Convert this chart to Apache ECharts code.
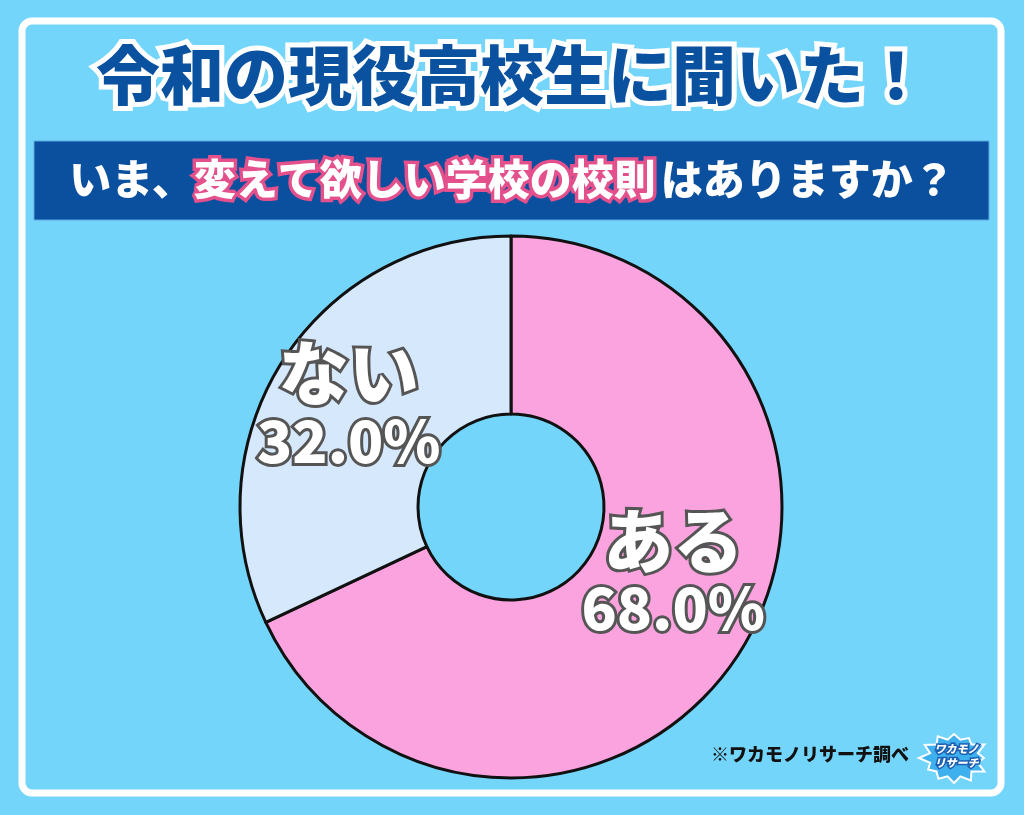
<!DOCTYPE html>
<html><head><meta charset="utf-8">
<script src="https://cdn.jsdelivr.net/npm/echarts@6/dist/echarts.min.js"></script>
<style>html,body{margin:0;padding:0;background:#74d5fb;}#c{width:1024px;height:815px;}</style>
</head><body><div id="c"></div>
<script>
const categories = ['ある', 'ない'];
const values = [68.0, 32.0];
const colors = ['#fba3df', '#d6e8fc'];
const labelOffsets = [[6, -36], [-6, -5]];
const titleText = '令和の現役高校生に聞いた！';
const subPre = 'いま、';
const subMid = '変えて欲しい学校の校則';
const subPost = 'はありますか？';
const sourceText = '※ワカモノリサーチ調べ';

const F = '"Noto Sans CJK JP", "Noto Sans", sans-serif';
const chart = echarts.init(document.getElementById('c'), null, {renderer: 'canvas'});

function burst(cx, cy, rO, rI, n) {
  const pts = [];
  for (let i = 0; i < n * 2; i++) {
    const a = Math.PI * i / n;
    const r = (i % 2 === 0) ? rO * (0.85 + 0.15 * ((i * 7) % 5) / 4) : rI;
    pts.push([cx + r * 1.3 * Math.cos(a), cy + r * Math.sin(a)]);
  }
  return pts;
}

chart.setOption({
  backgroundColor: '#74d5fb',
  title: [{
    text: titleText, left: 'center', top: 38,
    textStyle: {fontFamily: F, fontWeight: 900, fontSize: 64, color: '#0a52a0',
      textBorderColor: '#ffffff', textBorderWidth: 10}
  }, {
    text: '{w|' + subPre + '}{p|' + subMid + '}{s| }{w|' + subPost + '}',
    left: 'center', top: 153,
    textStyle: {rich: {
      w: {fontFamily: F, fontWeight: 900, fontSize: 42, color: '#ffffff'},
      p: {fontFamily: F, fontWeight: 900, fontSize: 42, color: '#ffffff', textBorderColor: '#e4508c', textBorderWidth: 7},
      s: {fontSize: 18}
    }}
  }],
  graphic: [
    {type: 'rect', z: -1, shape: {x: 22, y: 21, width: 979, height: 772, r: 10},
      style: {fill: 'none', stroke: '#ffffff', lineWidth: 7}},
    {type: 'rect', z: -1, shape: {x: 34, y: 141, width: 955, height: 79},
      style: {fill: '#0b509e', stroke: '#5fa8e0', lineWidth: 1}},
    {type: 'text', left: 711, top: 745,
      style: {text: sourceText, font: '900 18px ' + F, fill: '#111111'}},
    {type: 'polygon', shape: {points: burst(954, 758, 27, 19, 12)},
      style: {fill: '#3fb0ee', stroke: '#ffffff', lineWidth: 2}},
    {type: 'text', left: 933, top: 742,
      style: {text: 'ワカモノ\nリサーチ', font: 'italic 900 11px ' + F, fill: '#ffffff',
        stroke: '#1a5fb0', lineWidth: 3, lineHeight: 14}}
  ],
  series: [{
    type: 'pie',
    center: [511, 507],
    radius: [93, 271],
    startAngle: 90,
    clockwise: true,
    silent: true,
    avoidLabelOverlap: false,
    itemStyle: {borderColor: '#111111', borderWidth: 3},
    label: {
      show: true, position: 'inside',
      formatter: p => '{a|' + p.name + '}\n{b|' + p.value.toFixed(1) + '%}',
      rich: {
        a: {fontFamily: F, fontWeight: 900, fontSize: 70, color: '#ffffff',
          textBorderColor: '#555555', textBorderWidth: 6, lineHeight: 76, align: 'center'},
        b: {fontFamily: F, fontWeight: 900, fontSize: 58, color: '#ffffff',
          textBorderColor: '#555555', textBorderWidth: 6, lineHeight: 58, align: 'center'}
      }
    },
    labelLine: {show: false},
    data: categories.map((c, i) => ({
      name: c, value: values[i],
      itemStyle: {color: colors[i]},
      label: {offset: labelOffsets[i]}
    }))
  }]
});
</script></body></html>
